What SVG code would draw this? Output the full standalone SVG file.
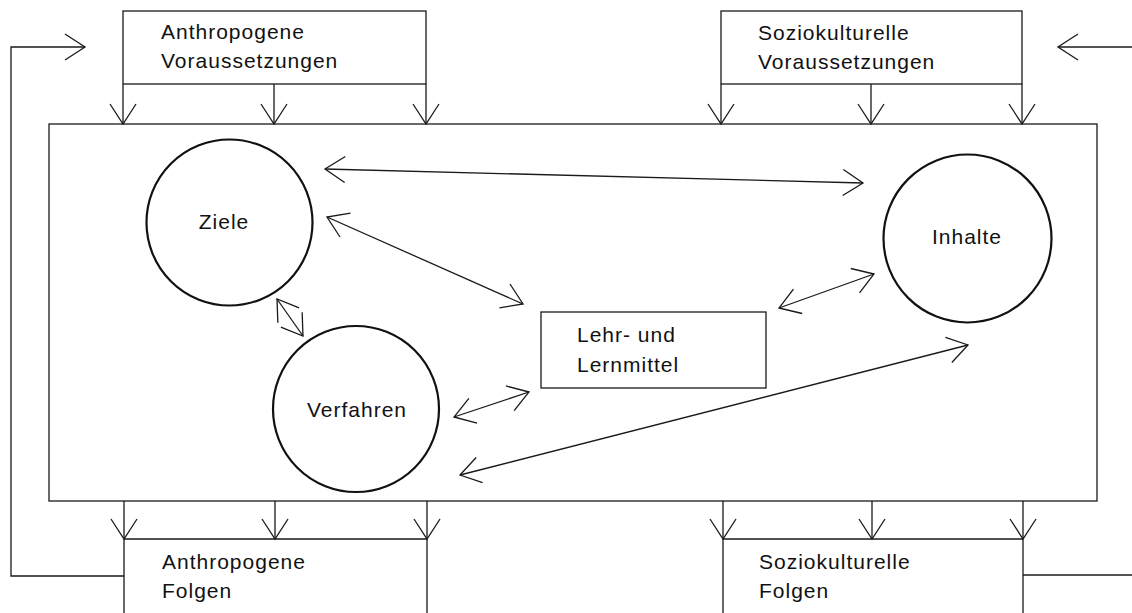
<svg xmlns="http://www.w3.org/2000/svg" width="1132" height="613" viewBox="0 0 1132 613">
<style>
  .box{fill:none;stroke:#1a1a1a;stroke-width:1.3}
  .circ{fill:none;stroke:#111;stroke-width:2.2}
  .ln{fill:none;stroke:#1a1a1a;stroke-width:1.3}
  .arr{fill:none;stroke:#1a1a1a;stroke-width:1.3;marker-end:url(#ah)}
  .dbl{fill:none;stroke:#1a1a1a;stroke-width:1.3;marker-start:url(#ah);marker-end:url(#ah)}
  text{font-family:"Liberation Sans",Arial,sans-serif;font-size:21px;letter-spacing:1px;fill:#111}
  .c{text-anchor:middle}
</style>
<defs>
  <marker id="ah" markerUnits="userSpaceOnUse" markerWidth="30" markerHeight="30" viewBox="-22 -15 24 30" refX="0" refY="0" orient="auto-start-reverse">
    <path d="M-20,-13 L0,0 L-20,13" fill="none" stroke="#1a1a1a" stroke-width="1.3"/>
  </marker>
</defs>
<rect width="1132" height="613" fill="#fff"/>

<g id="main-frame">
  <rect class="box" x="49" y="124" width="1048" height="377"/>
</g>

<g id="anthropogene-voraussetzungen">
  <rect class="box" x="123" y="11" width="303" height="73"/>
  <text x="161" y="39">Anthropogene</text>
  <text x="161" y="68">Voraussetzungen</text>
</g>

<g id="soziokulturelle-voraussetzungen">
  <rect class="box" x="721" y="11" width="301" height="73"/>
  <text x="758" y="40">Soziokulturelle</text>
  <text x="758" y="69">Voraussetzungen</text>
</g>

<g id="anthropogene-folgen">
  <path class="box" d="M124,613 V539 H427 V613"/>
  <text x="162" y="569">Anthropogene</text>
  <text x="162" y="598">Folgen</text>
</g>

<g id="soziokulturelle-folgen">
  <path class="box" d="M723,613 V539 H1023 V613"/>
  <text x="759" y="569">Soziokulturelle</text>
  <text x="759" y="598">Folgen</text>
</g>

<g id="ziele">
  <circle class="circ" cx="229.5" cy="222.5" r="83"/>
  <text class="c" x="224" y="229">Ziele</text>
</g>

<g id="inhalte">
  <circle class="circ" cx="967.5" cy="238.5" r="84"/>
  <text class="c" x="967" y="244">Inhalte</text>
</g>

<g id="verfahren">
  <circle class="circ" cx="356" cy="409" r="83"/>
  <text class="c" x="357" y="417">Verfahren</text>
</g>

<g id="lehr-und-lernmittel">
  <rect class="box" x="541" y="312" width="225" height="76"/>
  <text x="577" y="342">Lehr- und</text>
  <text x="577" y="372">Lernmittel</text>
</g>

<g id="connectors">
  <!-- top inputs -->
  <line class="arr" x1="123" y1="84" x2="123" y2="124"/>
  <line class="arr" x1="274" y1="84" x2="274" y2="124"/>
  <line class="arr" x1="426" y1="84" x2="426" y2="124"/>
  <line class="arr" x1="721" y1="84" x2="721" y2="124"/>
  <line class="arr" x1="871" y1="84" x2="871" y2="124"/>
  <line class="arr" x1="1022" y1="84" x2="1022" y2="124"/>
  <!-- bottom outputs -->
  <line class="arr" x1="124" y1="501" x2="124" y2="539"/>
  <line class="arr" x1="275" y1="501" x2="275" y2="539"/>
  <line class="arr" x1="427" y1="501" x2="427" y2="539"/>
  <line class="arr" x1="723" y1="501" x2="723" y2="539"/>
  <line class="arr" x1="872" y1="501" x2="872" y2="539"/>
  <line class="arr" x1="1023" y1="501" x2="1023" y2="539"/>
  <!-- feedback loops -->
  <path class="arr" d="M124,576 H11 V47 H85"/>
  <line class="arr" x1="1132" y1="47" x2="1058" y2="47"/>
  <line class="ln" x1="1023" y1="575" x2="1132" y2="575"/>
  <!-- inner relations -->
  <line class="dbl" x1="325" y1="169" x2="863" y2="183"/>
  <line class="dbl" x1="327" y1="217" x2="523" y2="304"/>
  <line class="dbl" x1="277" y1="299" x2="303" y2="336"/>
  <line class="dbl" x1="779" y1="308" x2="874" y2="274"/>
  <line class="dbl" x1="454" y1="417" x2="529" y2="392"/>
  <line class="dbl" x1="460" y1="475" x2="968" y2="345"/>
</g>
</svg>
